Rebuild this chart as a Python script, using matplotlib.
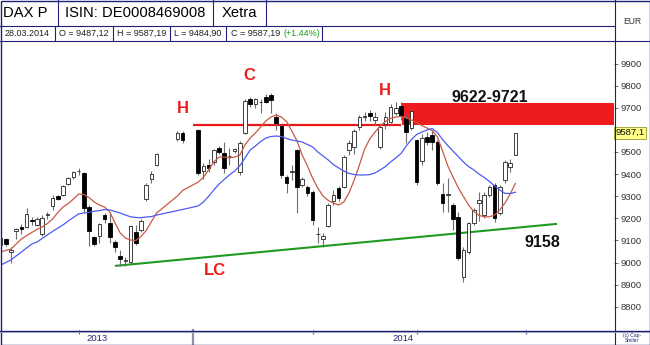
import numpy as np
import matplotlib
matplotlib.use("Agg")
import matplotlib.pyplot as plt
from matplotlib.lines import Line2D
from matplotlib.patches import Rectangle
import matplotlib.transforms as mtransforms

plt.rcParams['font.family'] = ['Liberation Sans', 'DejaVu Sans']

# ---------------- data ----------------
dates = [
    '2013-11-11', '2013-11-12', '2013-11-13', '2013-11-14', '2013-11-15',
    '2013-11-18', '2013-11-19', '2013-11-20', '2013-11-21', '2013-11-22',
    '2013-11-25', '2013-11-26', '2013-11-27', '2013-11-28', '2013-11-29',
    '2013-12-02', '2013-12-03', '2013-12-04', '2013-12-05', '2013-12-06',
    '2013-12-09', '2013-12-10', '2013-12-11', '2013-12-12', '2013-12-13',
    '2013-12-16', '2013-12-17', '2013-12-18', '2013-12-19', '2013-12-20',
    '2013-12-23', '2013-12-27', '2013-12-30',
    '2014-01-02', '2014-01-03', '2014-01-06', '2014-01-07', '2014-01-08',
    '2014-01-09', '2014-01-10', '2014-01-13', '2014-01-14', '2014-01-15',
    '2014-01-16', '2014-01-17', '2014-01-20', '2014-01-21', '2014-01-22',
    '2014-01-23', '2014-01-24', '2014-01-27', '2014-01-28', '2014-01-29',
    '2014-01-30', '2014-01-31',
    '2014-02-03', '2014-02-04', '2014-02-05', '2014-02-06', '2014-02-07',
    '2014-02-10', '2014-02-11', '2014-02-12', '2014-02-13', '2014-02-14',
    '2014-02-17', '2014-02-18', '2014-02-19', '2014-02-20', '2014-02-21',
    '2014-02-24', '2014-02-25', '2014-02-26', '2014-02-27', '2014-02-28',
    '2014-03-03', '2014-03-04', '2014-03-05', '2014-03-06', '2014-03-07',
    '2014-03-10', '2014-03-11', '2014-03-12', '2014-03-13', '2014-03-14',
    '2014-03-17', '2014-03-18', '2014-03-19', '2014-03-20', '2014-03-21',
    '2014-03-24', '2014-03-25', '2014-03-26', '2014-03-27', '2014-03-28',
]

opens = [
    9078, 9105, 9050, 9142, 9160, 9159, 9193, 9172, 9129, 9215,
    9257, 9300, 9305, 9355, 9386,
    9413, 9404, 9250, 9114, 9122, 9215, 9180, 9094, 9031, 9008,
    9004, 9140, 9147, 9286, 9377, 9441, 9558, 9587,
    9600, 9415, 9440, 9456, 9518, 9497, 9480, 9505, 9410, 9587,
    9740, 9717, 9725, 9750, 9757, 9660, 9617, 9388, 9408, 9509,
    9351, 9343,
    9320, 9127, 9108, 9167, 9280, 9336, 9343, 9509, 9524, 9614,
    9658, 9675, 9645, 9524, 9625, 9637, 9676, 9708, 9652, 9607,
    9554, 9459, 9566, 9577, 9546, 9309, 9305, 9260, 9205, 8936,
    9049, 9177, 9268, 9215, 9305, 9351, 9223, 9373, 9433, 9487,
]
highs = [
    9120, 9110, 9072, 9156, 9173, 9245, 9207, 9205, 9215, 9230,
    9305, 9305, 9352, 9388, 9415,
    9426, 9410, 9260, 9120, 9178, 9225, 9230, 9100, 9057, 9027,
    9170, 9168, 9195, 9358, 9415, 9495, 9595, 9595,
    9605, 9450, 9470, 9515, 9525, 9545, 9517, 9520, 9548, 9740,
    9750, 9745, 9738, 9760, 9765, 9676, 9625, 9395, 9440, 9515,
    9385, 9350,
    9330, 9162, 9135, 9270, 9328, 9345, 9485, 9554, 9602, 9668,
    9680, 9690, 9680, 9625, 9680, 9715, 9725, 9725, 9665, 9700,
    9560, 9580, 9590, 9600, 9555, 9358, 9381, 9270, 9230, 9070,
    9185, 9245, 9320, 9320, 9350, 9360, 9350, 9465, 9470, 9587,
]
lows = [
    9060, 9075, 9000, 9105, 9128, 9155, 9170, 9165, 9120, 9195,
    9238, 9285, 9300, 9350, 9380,
    9396, 9228, 9075, 9075, 9090, 9180, 9088, 9049, 8986, 8986,
    8995, 9080, 9140, 9280, 9358, 9435, 9550, 9540,
    9395, 9378, 9410, 9440, 9490, 9406, 9441, 9495, 9396, 9580,
    9705, 9700, 9675, 9720, 9675, 9600, 9382, 9316, 9373, 9224,
    9340, 9300,
    9170, 9087, 9072, 9160, 9260, 9280, 9335, 9486, 9490, 9600,
    9640, 9640, 9620, 9515, 9605, 9630, 9665, 9645, 9540, 9600,
    9350, 9440, 9530, 9510, 9350, 9230, 9230, 9147, 9010, 8914,
    9040, 9170, 9190, 9200, 9295, 9185, 9215, 9360, 9410, 9485,
]
closes = [
    9110, 9082, 9055, 9152, 9152, 9218, 9190, 9197, 9203, 9220,
    9293, 9289, 9348, 9381, 9408,
    9416, 9245, 9145, 9085, 9173, 9195, 9117, 9072, 9016, 9011,
    9165, 9090, 9188, 9351, 9400, 9490, 9587, 9554,
    9406, 9437, 9428, 9509, 9500, 9426, 9484, 9512, 9542, 9732,
    9717, 9738, 9727, 9727, 9735, 9632, 9396, 9358, 9412, 9343,
    9378, 9313,
    9192, 9130, 9120, 9260, 9305, 9291, 9479, 9539, 9596, 9660,
    9662, 9663, 9660, 9614, 9656, 9705, 9700, 9663, 9592, 9687,
    9366, 9562, 9546, 9546, 9358, 9271, 9309, 9196, 9019, 9057,
    9177, 9237, 9283, 9305, 9343, 9200, 9343, 9456, 9451, 9587,
]

# moving averages as drawn in the chart (red = fast, blue = slow)
ma_fast = [
    9048, 9055, 9061, 9084, 9107, 9122, 9136, 9150, 9161, 9177,
    9197, 9226, 9251, 9267, 9287,
    9310, 9308, 9294, 9274, 9260, 9251, 9229, 9179, 9134, 9111,
    9102, 9100, 9118, 9145, 9185, 9224, 9301, 9326,
    9364, 9385, 9419, 9455, 9477, 9477, 9473, 9477, 9486, 9532,
    9563, 9586, 9613, 9640, 9658, 9667, 9658, 9637, 9595, 9550,
    9486, 9437,
    9382, 9337, 9301, 9281, 9269, 9260, 9274, 9315, 9373, 9441,
    9513, 9559, 9590, 9617, 9638, 9652, 9658, 9661, 9654, 9645,
    9633, 9620, 9608, 9597, 9568, 9504, 9437, 9387, 9339, 9299,
    9260, 9231, 9213, 9207, 9207, 9215, 9238, 9269, 9310, 9358,
]
ma_slow = [
    8989, 9000, 9012, 9030, 9048, 9066, 9084, 9093, 9109, 9125,
    9141, 9156, 9170, 9188, 9204,
    9220, 9224, 9227, 9232, 9235, 9240, 9238, 9231, 9224, 9215,
    9207, 9204, 9203, 9206, 9208, 9215, 9235, 9240,
    9256, 9274, 9299, 9328, 9355, 9376, 9396, 9414, 9437, 9473,
    9509, 9527, 9547, 9563, 9570, 9572, 9570, 9561, 9554, 9550,
    9545, 9534,
    9523, 9500, 9482, 9464, 9443, 9428, 9414, 9403, 9398, 9396,
    9396, 9398, 9405, 9419, 9434, 9455, 9473, 9493, 9527, 9556,
    9579, 9590, 9599, 9606, 9588, 9556, 9529, 9504, 9480, 9455,
    9434, 9419, 9400, 9385, 9367, 9346, 9328, 9313, 9312, 9318,
]

y_ticks = [8800, 8900, 9000, 9100, 9200, 9300, 9400, 9500, 9700, 9800, 9900]
month_ticks = ['2013-12-02', '2014-02-03', '2014-03-03', '2014-04-01']
year_break = '2014-01-01'
year_labels = ['2013', '2014']
last_price = 9587.19
last_price_label = '9587,1'

zone_low, zone_high = 9622, 9721
zone_start = '2014-02-26'
h_level = 9622
h_line_dates = ['2014-01-01', '2014-02-26']
trend_dates = ['2013-12-11', '2014-04-09']
trend_values = [8985, 9175]

header_row1 = ['DAX P', 'ISIN: DE0008469008', 'Xetra']
header_row2 = ['28.03.2014', 'O = 9487,12', 'H = 9587,19', 'L = 9484,90', 'C = 9587,19']
change_text = '(+1.44%)'

# ---------------- helpers ----------------
origin = np.datetime64(dates[0])
def slot(d):
    return float(np.busday_count(origin, np.datetime64(d)))

xs = np.array([slot(d) for d in dates])
o = np.array(opens, float); h = np.array(highs, float)
l = np.array(lows, float); c = np.array(closes, float)

W, H = 650, 345
NAVY = '#1f1f7a'

fig = plt.figure(figsize=(W / 100, H / 100), dpi=100)
fig.patch.set_facecolor('white')

def fx(px):
    return px / W
def fy(py):
    return 1 - py / H

ax = fig.add_axes([fx(1), fy(330), (614 - 1) / W, (330 - 41) / H])
ax.set_facecolor('white')
ax.set_xlim((1 - 0.6) / 5.2, (614 - 0.6) / 5.2)
ax.set_ylim(9900 - (330 - 63.5) / 0.2212, 9900 + (63.5 - 41) / 0.2212)
for s in ax.spines.values():
    s.set_visible(False)

# resistance zone and H line (behind candles)
zs = slot(zone_start)
ax.add_patch(Rectangle((zs + 0.1, zone_low), 200, zone_high - zone_low,
                       facecolor='#ee1c1c', edgecolor='none', zorder=1))
ax.plot([slot(d) for d in h_line_dates], [h_level, h_level], color='#e81818',
        lw=1.6, zorder=1, solid_capstyle='butt')
ax.plot([slot(d) for d in trend_dates], trend_values, color='#1e9a1e',
        lw=1.5, zorder=1, solid_capstyle='butt')

# candles
up = c >= o
ax.vlines(xs, l, h, colors='#6e6e6e', lw=0.8, zorder=3)
body_lo = np.minimum(o, c)
body_h = np.maximum(np.abs(c - o), 3.0)
ax.bar(xs[up], body_h[up], bottom=body_lo[up], width=0.68, color='white',
       edgecolor='#222222', linewidth=0.6, zorder=4)
ax.bar(xs[~up], body_h[~up], bottom=body_lo[~up], width=0.68, color='black',
       edgecolor='black', linewidth=0.6, zorder=4)

# moving averages
ax.plot(xs, ma_fast, color='#c85a44', lw=0.9, zorder=5)
ax.plot(xs, ma_slow, color='#4b5cf0', lw=0.9, zorder=5)

# annotations
red_txt = dict(color='#f01c1c', fontsize=12, fontweight='bold', ha='center', va='center', zorder=6)
blk_txt = dict(color='#111111', fontsize=11.5, fontweight='bold', ha='center', va='center', zorder=6)
ax.text(47.8, 9848, 'C', **red_txt)
ax.text(35.0, 9696, 'H', **red_txt)
ax.text(73.9, 9776, 'H', **red_txt)
ax.text(41.3, 8962, 'LC', **red_txt)
ax.text(94.1, 9746, '9622-9721', **blk_txt)
ax.text(104.2, 9091, '9158', **blk_txt)

# right price axis
ax.yaxis.set_ticks_position('right')
ax.set_yticks(y_ticks)
ax.set_yticklabels([str(v) for v in y_ticks])
ax.tick_params(axis='y', direction='out', length=3, width=0.6, color='#555555',
               labelsize=6.8, labelcolor='#333333', pad=1.5)

# bottom axis ticks
ax.set_xticks([slot(d) for d in month_ticks])
ax.tick_params(axis='x', direction='out', length=3, width=0.8, color='#5050a0',
               labelbottom=False)

trans_xb = mtransforms.blended_transform_factory(ax.transData, ax.transAxes)
yb = slot(year_break)
ax.plot([yb, yb], [0, -15 / 289], transform=trans_xb, color='#9090a8', lw=1.6,
        clip_on=False, zorder=6)
x0, x1 = ax.get_xlim()
ax.text((x0 + yb) / 2, -8.5 / 289, year_labels[0], transform=trans_xb, ha='center',
        va='center', fontsize=6.8, color='#2a2a70')
ax.text((yb + x1) / 2, -8.5 / 289, year_labels[1], transform=trans_xb, ha='center',
        va='center', fontsize=6.8, color='#2a2a70')

# current price label
trans_ya = mtransforms.blended_transform_factory(ax.transAxes, ax.transData)
ax.text(1.003, last_price, last_price_label, transform=trans_ya, ha='left', va='center',
        fontsize=6.8, color='#111111', zorder=7, clip_on=False,
        bbox=dict(boxstyle='square,pad=0.15', facecolor='#ffff88', edgecolor='#999933', lw=0.6))

# ---------------- frame / header ----------------
def fline(xa, ya, xb, yb_, color=NAVY, lw=0.8):
    fig.add_artist(Line2D([fx(xa), fx(xb)], [fy(ya), fy(yb_)], transform=fig.transFigure,
                          color=color, lw=lw))

fig.add_artist(Rectangle((fx(0.5), fy(344.5)), (649) / W, 344 / H, transform=fig.transFigure,
                         fill=False, edgecolor=NAVY, lw=1.0))
fline(0, 25.5, 614.5, 25.5)
fline(0, 40.5, 650, 40.5)
fline(614.5, 0, 614.5, 345)
fline(0, 330.5, 650, 330.5, lw=1.0)
fline(0, 331.5, 650, 331.5, color='#a0a0b8', lw=0.7)
for xd in [58, 213, 266]:
    fline(xd, 0, xd, 25.5)
for xd in [55, 113, 170, 226, 322]:
    fline(xd, 25.5, xd, 40.5)

fig.text(fx(3), fy(13), header_row1[0], ha='left', va='center', fontsize=10.6, color='black')
fig.text(fx(135.5), fy(13), header_row1[1], ha='center', va='center', fontsize=10.6, color='black')
fig.text(fx(239.5), fy(13), header_row1[2], ha='center', va='center', fontsize=10.6, color='black')

cells2 = [(0, 55), (55, 113), (113, 170), (170, 226)]
for (a, b), t in zip(cells2, header_row2[:4]):
    fig.text(fx((a + b) / 2), fy(33.5), t, ha='center', va='center', fontsize=6.5, color='#222222')
fig.text(fx(231), fy(33.5), header_row2[4], ha='left', va='center', fontsize=6.5, color='#222222')
fig.text(fx(283), fy(33.5), change_text, ha='left', va='center', fontsize=6.5, color='#1a9a1a')

fig.text(fx(632), fy(21), 'EUR', ha='center', va='center', fontsize=6.2, color='#333333')
fig.text(fx(632), fy(335), '(c) Cap-', ha='center', va='center', fontsize=3.6, color=NAVY)
fig.text(fx(632), fy(340), 'Smiler', ha='center', va='center', fontsize=3.6, color=NAVY)

fig.savefig('out.png', dpi=100, facecolor='white')
